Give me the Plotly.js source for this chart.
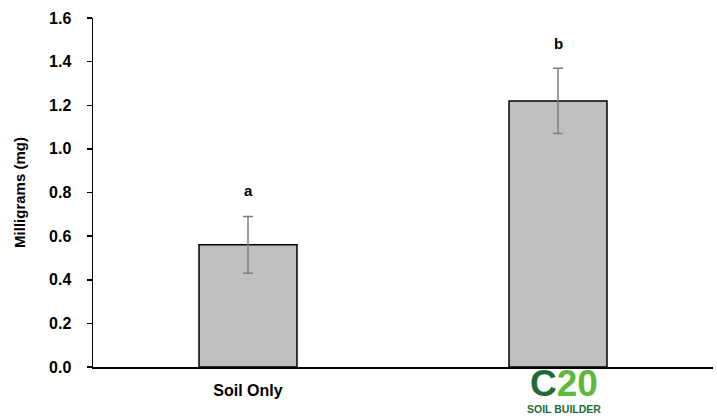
<!DOCTYPE html>
<html><head><meta charset="utf-8">
<script src="https://cdn.plot.ly/plotly-3.0.1.min.js"></script>
<style>body{margin:0;background:#fff}#c{width:717px;height:419px}</style>
</head><body><div id="c"></div>
<script>
var categories = ['Soil Only', 'C20 Soil Builder'];
var tickLabels = ['Soil Only', ''];
var logoLabel = '<b><span style="font-size:37px"><span style="color:#1f6b36">C</span><span style="color:#5dba3b">20</span></span><br><span style="font-size:10.5px;color:#1f6b36">SOIL BUILDER</span></b>';
var means = [0.56, 1.22];
var errors = [0.13, 0.15];
var letters = ['a', 'b'];
var letterPos = [0.81, 1.485];

var trace = {
  type: 'bar', x: categories, y: means, width: 0.316,
  marker: {color: '#bfbfbf', line: {color: '#000', width: 1.5}},
  error_y: {type: 'data', array: errors, visible: true, color: '#7f7f7f', thickness: 1.5, width: 5},
  hoverinfo: 'skip'
};
var annotations = categories.map(function(c, i){
  return {x: c, y: letterPos[i], text: '<b>' + letters[i] + '</b>', showarrow: false,
    font: {size: 15, color: '#000', family: 'Liberation Sans, Arial, sans-serif'}};
});
annotations.push({x: categories[1], y: 0, yref: 'y', yanchor: 'top', yshift: 6, xshift: 6, showarrow: false,
  text: logoLabel, align: 'center', font: {size: 13, family: 'Liberation Sans, Arial, sans-serif'}});
var layout = {
  width: 717, height: 419,
  margin: {l: 93, r: 4, t: 18, b: 52},
  paper_bgcolor: '#fff', plot_bgcolor: '#fff',
  font: {family: 'Liberation Sans, Arial, sans-serif', color: '#000'},
  showlegend: false,
  xaxis: {tickmode: 'array', tickvals: categories, ticktext: tickLabels, showline: true, linecolor: '#000', linewidth: 1.5,
    ticks: '', tickfont: {size: 16, weight: 'bold'}, ticklabelstandoff: 8, showgrid: false, zeroline: false, fixedrange: true},
  yaxis: {range: [0, 1.6], dtick: 0.2, tickformat: '.1f', showline: true, linecolor: '#000', linewidth: 1.5,
    ticks: 'outside', ticklen: 5, tickcolor: '#000', tickwidth: 1.5, tickfont: {size: 16, weight: 'bold'},
    showgrid: false, zeroline: false, ticklabelstandoff: 12,
    title: {text: '<b>Milligrams (mg)</b>', font: {size: 15}, standoff: 20}},
  annotations: annotations
};
Plotly.newPlot('c', [trace], layout, {displayModeBar: false, staticPlot: true});
</script></body></html>
